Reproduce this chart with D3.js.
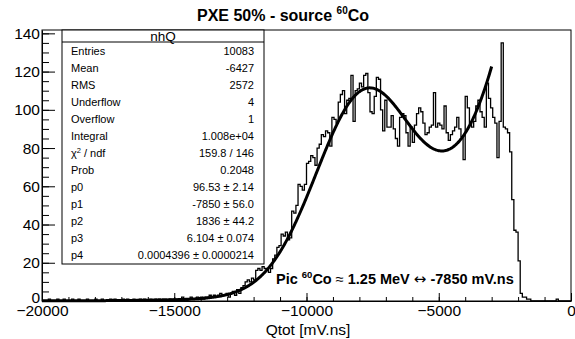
<!DOCTYPE html>
<html><head><meta charset="utf-8">
<script src="https://cdn.jsdelivr.net/npm/d3@7"></script>
<style>
body{margin:0;background:#fff}
svg{display:block}
text{font-family:"Liberation Sans",Arial,Helvetica,sans-serif;fill:#000}
</style></head><body>
<svg id="c" width="575" height="339"></svg>
<script>
// ---- data ----
const xLow = -20000, xHigh = 0, binWidth = 80;
const counts = [
0,0,0,1,0,0,0,1,0,0,1,0,0,0,1,0,0,1,0,0,
0,1,0,0,0,1,0,0,1,0,0,0,1,0,1,0,0,0,1,0,
1,0,0,1,0,0,1,0,1,0,0,1,0,1,0,1,0,1,1,0,
1,0,1,1,0,1,2,1,0,1,2,1,1,2,1,2,1,2,2,3,
2,3,2,3,4,3,
3,4,2,4,5,3,6,4,7,8,10,11,10,12,
11,16,17,16,18,17,16,15,17,22,24,28,29,35,34,36,32,33,47,46,
50,61,60,58,61,72,73,76,75,71,80,82,87,86,89,88,81,96,95,93,
104,108,110,98,105,106,118,94,110,111,114,112,118,119,109,99,98,107,117,116,100,89,
105,91,91,97,90,85,81,96,98,97,
88,81,91,83,92,98,101,99,93,87,
88,91,92,109,91,93,92,90,102,88,
84,87,89,91,96,90,86,74,107,101,
93,91,94,102,105,99,96,91,114,106,
101,96,93,75,94,135,
91,90,88,78,53,37,36,21,4,2,2,1,1,
0,0,0,0,0,0,0,0,0,0,0,0,1,0,0,0,0,0,0
];
const xTicks = [-20000,-15000,-10000,-5000,0];
const xMinorStep = 1000;
const yTicks = [0,20,40,60,80,100,120,140];
const yMinorStep = 5;
const fitParams = [96.53, -7850, 1836, 6.104, 0.0004396];
const fitRange = [-20000, -3000];
const histName = "nhQ";
const statLabels = ["Entries","Mean","RMS","Underflow","Overflow","Integral","χ2 / ndf","Prob","p0","p1","p2","p3","p4"];
const statValues = ["10083","-6427","2572","4","1","1.008e+04","159.8 / 146","0.2048",
  "96.53 ± 2.14","-7850 ± 56.0","1836 ± 44.2","6.104 ± 0.074","0.0004396 ± 0.0000214"];

// ---- layout ----
const svg = d3.select("#c");
svg.append("rect").attr("width",575).attr("height",339).attr("fill","#fff");
const L = 42, R = 571, T = 30, B = 301;
const yMax = d3.max(counts) * 1.05;
const x = d3.scaleLinear().domain([xLow, xHigh]).range([L, R]);
const y = d3.scaleLinear().domain([0, yMax]).range([B, T]);

// histogram
const pts = [];
counts.forEach((c,i)=>{
  const lo = xLow + i*binWidth, hi = lo + binWidth;
  pts.push([x(lo), y(c)], [x(hi), y(c)]);
});
svg.append("path").attr("d", d3.line()(pts)).attr("fill","none")
  .attr("stroke","#000").attr("stroke-width",1.3);

// fit curve
const fitF = v => fitParams[0]*Math.exp(-0.5*Math.pow((v-fitParams[1])/fitParams[2],2)) + Math.exp(fitParams[3]+fitParams[4]*v);
const fx = d3.range(fitRange[0], fitRange[1]+1, 25);
svg.append("path").attr("d", d3.line().x(v=>x(v)).y(v=>y(fitF(v)))(fx))
  .attr("fill","none").attr("stroke","#000").attr("stroke-width",3).attr("stroke-linejoin","round");

// frame
svg.append("rect").attr("x",L).attr("y",T).attr("width",R-L).attr("height",B-T)
  .attr("fill","none").attr("stroke","#000").attr("stroke-width",1);

// axes
const xMinor = d3.range(xLow, xHigh+1, xMinorStep);
const yMinor = d3.range(0, yMax, yMinorStep);
const gx = svg.append("g").attr("transform",`translate(0,${B})`);
gx.call(d3.axisBottom(x).tickValues(xMinor).tickSizeInner(-4).tickSizeOuter(0).tickFormat(""));
gx.call(g=>g.selectAll(".domain").remove());
const gx2 = svg.append("g").attr("transform",`translate(0,${B})`);
gx2.call(d3.axisBottom(x).tickValues(xTicks).tickSizeInner(-8).tickSizeOuter(0).tickPadding(4).tickFormat(d3.format("d")));
gx2.selectAll("text").attr("font-size","15.5px").attr("font-family",null);
const gy = svg.append("g").attr("transform",`translate(${L},0)`);
gy.call(d3.axisLeft(y).tickValues(yMinor).tickSizeInner(-7).tickSizeOuter(0).tickFormat(""));
gy.call(g=>g.selectAll(".domain").remove());
const gy2 = svg.append("g").attr("transform",`translate(${L},0)`);
gy2.call(d3.axisLeft(y).tickValues(yTicks).tickSizeInner(-13).tickSizeOuter(0).tickPadding(2).tickFormat(d3.format("d")));
gy2.selectAll("text").attr("font-size","15.5px").attr("font-family",null);
gy2.selectAll(".tick").filter(d=>d===0).select("text").attr("dy","0.1em");
svg.selectAll(".domain").attr("stroke","#000");
svg.selectAll(".tick line").attr("stroke","#000");

// axis title
svg.append("text").attr("x",308).attr("y",335).attr("text-anchor","middle")
  .attr("font-size","15.5px").text("Qtot [mV.ns]");

// title
const tt = svg.append("text").attr("x",283).attr("y",21).attr("text-anchor","middle")
  .attr("font-size","16px").attr("font-weight","bold");
tt.append("tspan").text("PXE 50% - source ");
tt.append("tspan").attr("font-size","10px").attr("dy",-7).text("60");
tt.append("tspan").attr("dy",7).text("Co");

// stats box
const sx = 62, sy = 30, sw = 202, sh = 234, sHead = 12;
svg.append("rect").attr("x",sx).attr("y",sy).attr("width",sw).attr("height",sh)
  .attr("fill","#fff").attr("stroke","#000").attr("stroke-width",1);
svg.append("line").attr("x1",sx).attr("x2",sx+sw).attr("y1",sy+sHead).attr("y2",sy+sHead).attr("stroke","#000");
svg.append("text").attr("x",sx+sw/2).attr("y",sy+sHead-1).attr("text-anchor","middle")
  .attr("font-size","13.5px").text(histName);
const rowH = (sh - sHead)/statLabels.length;
statLabels.forEach((lab,k)=>{
  const cy = sy + sHead + rowH*(k+0.5) + 4;
  const t = svg.append("text").attr("x",sx+9).attr("y",cy).attr("font-size","11px");
  if (lab.startsWith("χ2")) {
    t.append("tspan").text("χ");
    t.append("tspan").attr("font-size","7.5px").attr("dy",-4).text("2");
    t.append("tspan").attr("dy",4).text(" / ndf");
  } else t.text(lab);
  svg.append("text").attr("x",sx+sw-10).attr("y",cy).attr("text-anchor","end")
    .attr("font-size","11px").text(statValues[k]);
});

// annotation
const an = svg.append("text").attr("x",276).attr("y",284).attr("font-size","14.5px").attr("font-weight","bold");
an.append("tspan").text("Pic ");
an.append("tspan").attr("font-size","9.5px").attr("dy",-6).text("60");
an.append("tspan").attr("dy",6).text("Co ");
an.append("tspan").attr("font-weight","normal").text("≈");
an.append("tspan").text(" 1.25 MeV ");
an.append("tspan").attr("font-weight","normal").attr("font-family","DejaVu Sans").attr("font-size","15px").text("↔");
an.append("tspan").text(" -7850 mV.ns");
</script></body></html>
